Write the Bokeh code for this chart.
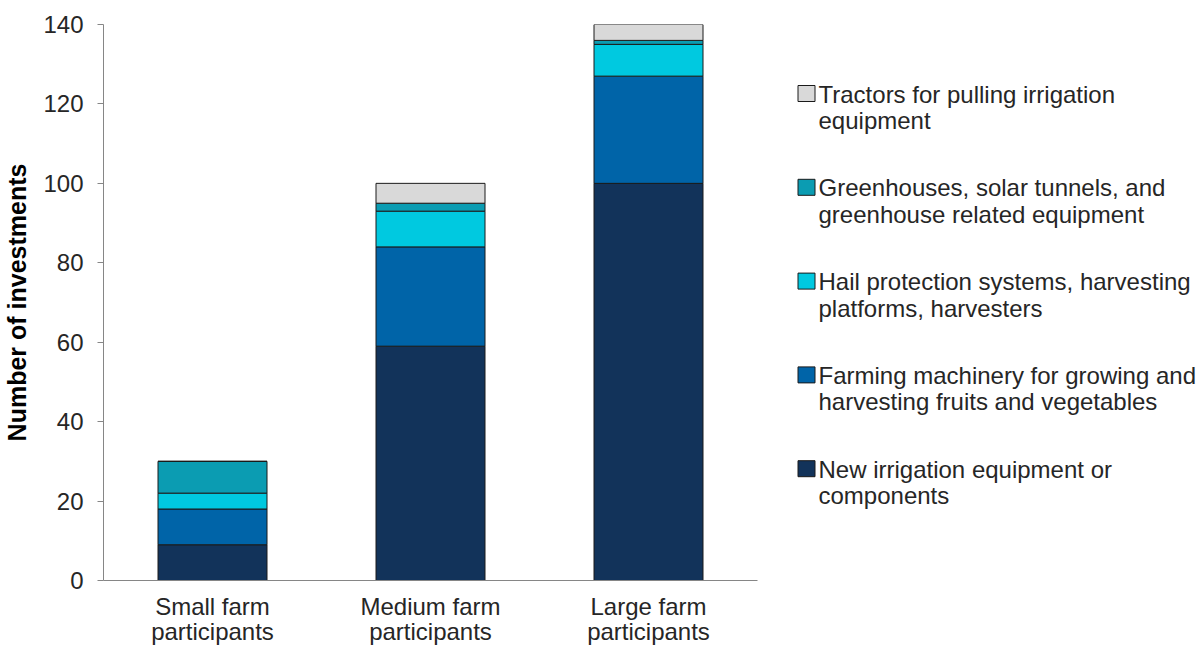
from bokeh.plotting import figure
from bokeh.models import Range1d, FactorRange, ColumnDataSource
from bokeh.layouts import row
from bokeh.embed import file_html
from bokeh.resources import INLINE
from bokeh.core.properties import value

# Farm size categories
categories = ["Small farm\nparticipants", "Medium farm\nparticipants", "Large farm\nparticipants"]

# Number of investments by type, stacked bottom to top
irrigation = [9, 59, 100]
machinery = [9, 25, 27]
hail = [4, 9, 8]
greenhouses = [8, 2, 1]
tractors = [0, 5, 4]

series_keys = ["irrigation", "machinery", "hail", "greenhouses", "tractors"]
series_labels = [
    "New irrigation equipment or\ncomponents",
    "Farming machinery for growing and\nharvesting fruits and vegetables",
    "Hail protection systems, harvesting\nplatforms, harvesters",
    "Greenhouses, solar tunnels, and\ngreenhouse related equipment",
    "Tractors for pulling irrigation\nequipment",
]
series_colors = ["#12335A", "#0064A8", "#00C9E0", "#0B9CB2", "#D9D9D9"]

y_ticks = [0, 20, 40, 60, 80, 100, 120, 140]

FONT = "Liberation Sans"
TEXT_COLOR = "#262626"
AXIS_COLOR = "#868686"

# Frame geometry shared by the chart and the legend panel (pixels)
FRAME_TOP = 24
FRAME_BOTTOM = 580

data = dict(
    cat=categories,
    irrigation=irrigation,
    machinery=machinery,
    hail=hail,
    greenhouses=greenhouses,
    tractors=tractors,
)
src = ColumnDataSource(data)

p = figure(
    x_range=FactorRange(*categories, range_padding=0),
    y_range=Range1d(0, 140),
    width=775,
    height=647,
    min_border_left=102,
    min_border_right=18,
    min_border_top=FRAME_TOP,
    min_border_bottom=647 - FRAME_BOTTOM,
    output_backend="svg",
    toolbar_location=None,
)

p.vbar_stack(
    series_keys,
    x="cat",
    width=0.5,
    source=src,
    color=series_colors,
    line_color="#1a1a1a",
    line_width=1,
)

p.xgrid.visible = False
p.ygrid.visible = False
p.outline_line_color = None
p.background_fill_color = "white"
p.border_fill_color = "white"

# y axis
p.yaxis.ticker = y_ticks
p.yaxis.axis_line_color = AXIS_COLOR
p.yaxis.major_tick_line_color = AXIS_COLOR
p.yaxis.major_tick_out = 6
p.yaxis.major_tick_in = 0
p.yaxis.minor_tick_line_color = None
p.yaxis.major_label_standoff = 14
p.yaxis.major_label_text_font = FONT
p.yaxis.major_label_text_font_size = "24px"
p.yaxis.major_label_text_color = TEXT_COLOR
p.yaxis.axis_label = "Number of investments"
p.yaxis.axis_label_text_font = FONT
p.yaxis.axis_label_text_font_style = "bold"
p.yaxis.axis_label_text_font_size = "25px"
p.yaxis.axis_label_text_color = "#000000"
p.yaxis.axis_label_standoff = 9

# x axis
p.xaxis.axis_line_color = AXIS_COLOR
p.xaxis.major_tick_line_color = None
p.xaxis.major_tick_out = 0
p.xaxis.major_tick_in = 0
p.xaxis.minor_tick_line_color = None
p.xaxis.major_label_standoff = 12
p.xaxis.major_label_text_font = FONT
p.xaxis.major_label_text_font_size = "24px"
p.xaxis.major_label_text_color = TEXT_COLOR
p.xaxis.major_label_text_line_height = 0.94

# Legend panel; its frame lines up with the chart frame, y grows downward in pixels
lg = figure(
    x_range=Range1d(0, 423),
    y_range=Range1d(FRAME_BOTTOM, FRAME_TOP),
    width=423,
    height=647,
    min_border=0,
    output_backend="svg",
    toolbar_location=None,
)
lg.axis.visible = False
lg.xgrid.visible = False
lg.ygrid.visible = False
lg.outline_line_color = None

n = len(series_labels)
first_y = 93
step = 93.8
order = list(range(n))[::-1]  # top entry is the last stacked series
ys = [first_y + i * step for i in range(n)]
leg_src = ColumnDataSource(dict(
    x=[31] * n,
    tx=[43] * n,
    y=ys,
    ty=[yy - 13 for yy in ys],
    color=[series_colors[k] for k in order],
    label=[series_labels[k] for k in order],
))
lg.rect(x="x", y="y", width=17, height=16, source=leg_src,
        fill_color="color", line_color="#1a1a1a", line_width=1)
lg.text(x="tx", y="ty", text="label", source=leg_src,
        text_font=value(FONT), text_font_size="24px", text_color=TEXT_COLOR,
        text_baseline="top", text_align="left", text_line_height=0.98)

layout = row(p, lg, spacing=0)

open("out.html", "w").write(file_html(layout, INLINE))
